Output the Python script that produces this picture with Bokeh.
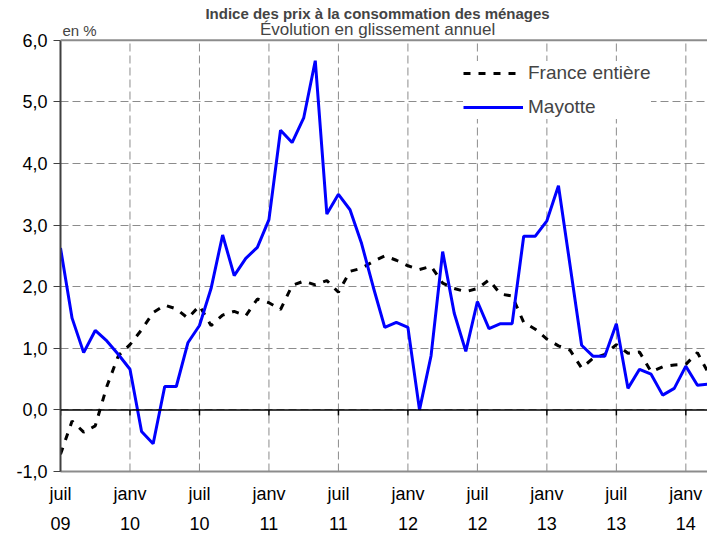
from bokeh.plotting import figure
from bokeh.models import (ColumnDataSource, Range1d, FixedTicker, Span, Label,
                          Legend, LegendItem)
from bokeh.embed import file_html
from bokeh.resources import INLINE

# ---- data (monthly, juil 09 -> mars 14) ----
months = list(range(57))
france = [-0.72, -0.18, -0.36, -0.26, 0.38, 0.88, 1.06, 1.30, 1.58, 1.70,
          1.64, 1.49, 1.69, 1.37, 1.54, 1.60, 1.53, 1.80, 1.74, 1.63,
          2.02, 2.09, 2.03, 2.10, 1.91, 2.25, 2.30, 2.41, 2.50, 2.43,
          2.34, 2.28, 2.33, 2.06, 1.97, 1.92, 1.97, 2.11, 1.88, 1.85,
          1.42, 1.31, 1.15, 1.04, 0.97, 0.68, 0.84, 0.90, 1.06, 0.92,
          0.94, 0.62, 0.70, 0.73, 0.74, 0.93, 0.58]
mayotte = [2.63, 1.49, 0.93, 1.29, 1.12, 0.90, 0.66, -0.35, -0.55, 0.38,
           0.38, 1.09, 1.37, 1.97, 2.84, 2.18, 2.46, 2.64, 3.09, 4.54,
           4.34, 4.74, 5.67, 3.18, 3.50, 3.25, 2.70, 2.00, 1.34, 1.42,
           1.34, 0.00, 0.88, 2.57, 1.57, 0.95, 1.76, 1.32, 1.40, 1.40,
           2.82, 2.82, 3.07, 3.64, 2.35, 1.05, 0.87, 0.87, 1.40, 0.35,
           0.66, 0.58, 0.24, 0.35, 0.71, 0.40, 0.42]
x_ticks = [0, 6, 12, 18, 24, 30, 36, 42, 48, 54]
x_tick_labels = ["juil\n09", "janv\n10", "juil\n10", "janv\n11", "juil\n11",
                 "janv\n12", "juil\n12", "janv\n13", "juil\n13", "janv\n14"]
y_ticks = [-1, 0, 1, 2, 3, 4, 5, 6]
y_tick_labels = ["-1,0", "0,0", "1,0", "2,0", "3,0", "4,0", "5,0", "6,0"]

title_text = "Indice des prix à la consommation des ménages"
subtitle_text = "Évolution en glissement annuel"
unit_text = "en %"
series_names = ["France entière", "Mayotte"]

FONT = "Liberation Sans"
GRID = "#8c8c8c"

src = ColumnDataSource(dict(m=months, fr=france, my=mayotte))
n_t = len(x_ticks)
grid_src = ColumnDataSource(dict(x=x_ticks, y0=[y_ticks[0]] * n_t,
                                 y1=[y_ticks[-1]] * n_t,
                                 z=[0] * n_t, zt=[-0.09] * n_t))

# frame spans the whole canvas height above the x axis; the top strip holds the titles
p = figure(width=707, height=536, output_backend="svg", toolbar_location=None,
           x_range=Range1d(0, 55.87), y_range=Range1d(y_ticks[0], 6.647),
           min_border_left=60, min_border_right=0, min_border_top=0,
           min_border_bottom=63)
p.outline_line_color = None
p.background_fill_color = "white"
p.border_fill_color = "white"

# horizontal grid
p.ygrid.ticker = FixedTicker(ticks=y_ticks)
p.ygrid.grid_line_color = GRID
p.ygrid.grid_line_dash = "8 4"
p.ygrid.grid_line_width = 1
# vertical grid (limited to the value range)
p.xgrid.visible = False
p.segment(x0="x", y0="y0", x1="x", y1="y1", source=grid_src,
          line_color=GRID, line_dash="8 4", line_width=1)

# top border and zero line
p.add_layout(Span(location=y_ticks[-1], dimension="width",
                  line_color=GRID, line_width=2))
p.add_layout(Span(location=0, dimension="width",
                  line_color="black", line_width=1.5))
p.segment(x0="x", y0="z", x1="x", y1="zt", source=grid_src,
          line_color="black", line_width=1.5)

# y axis
ya = p.yaxis[0]
ya.ticker = FixedTicker(ticks=y_ticks)
ya.bounds = (y_ticks[0], y_ticks[-1])
ya.major_label_overrides = {t: l for t, l in zip(y_ticks, y_tick_labels)}
ya.major_label_text_font = FONT
ya.major_label_text_font_size = "18px"
ya.major_label_text_color = "black"
ya.axis_line_color = "#404040"
ya.axis_line_width = 2
ya.major_tick_line_color = "#404040"
ya.major_tick_out = 7
ya.major_tick_in = 0
ya.minor_tick_line_color = None
ya.major_label_standoff = 6

# x axis (bottom, labels only)
xa = p.xaxis[0]
xa.ticker = FixedTicker(ticks=x_ticks)
xa.major_label_overrides = {t: l for t, l in zip(x_ticks, x_tick_labels)}
xa.major_label_text_font = FONT
xa.major_label_text_font_size = "18px"
xa.major_label_text_line_height = 1.5
xa.major_label_text_color = "black"
xa.axis_line_color = GRID
xa.axis_line_width = 2
xa.major_tick_line_color = None
xa.minor_tick_line_color = None
xa.major_label_standoff = 6

# series
r_fr = p.line("m", "fr", source=src, line_color="black", line_width=3,
              line_dash="7 8")
r_my = p.line("m", "my", source=src, line_color="#0000ff", line_width=3)

legend = Legend(items=[LegendItem(label=series_names[0], renderers=[r_fr]),
                       LegendItem(label=series_names[1], renderers=[r_my])],
                location=(403, 352), glyph_width=60, glyph_height=24,
                label_height=24, spacing=10, padding=10, label_standoff=5,
                label_text_font=FONT, label_text_font_size="19px",
                border_line_color=None, background_fill_color="white",
                background_fill_alpha=1.0)
p.add_layout(legend)

# texts
p.add_layout(Label(x=27.38, y=6.437, text=title_text, text_font=FONT,
                   text_font_size="15px", text_font_style="bold",
                   text_align="center", text_baseline="alphabetic"))
p.add_layout(Label(x=27.38, y=6.178, text=subtitle_text, text_font=FONT,
                   text_font_size="17px", text_align="center",
                   text_baseline="alphabetic"))
p.add_layout(Label(x=0.17, y=6.16, text=unit_text, text_font=FONT,
                   text_font_size="15px", text_align="left",
                   text_baseline="alphabetic"))

open("out.html", "w").write(file_html(p, INLINE))
